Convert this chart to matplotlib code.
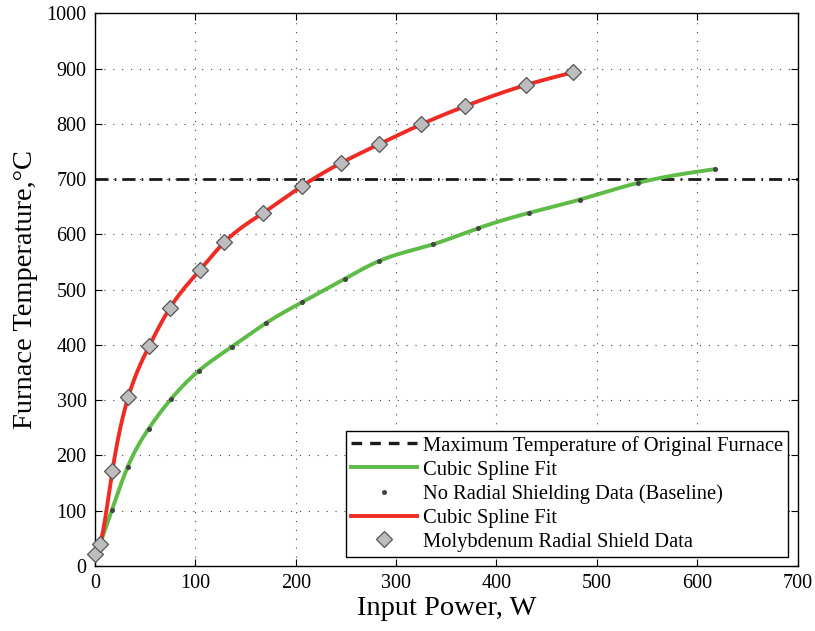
import matplotlib
matplotlib.use("Agg")
import matplotlib.pyplot as plt
from matplotlib.lines import Line2D
import numpy as np

# baseline (no radial shielding) data
base_power = [5, 16.7, 32.7, 53.3, 75.7, 103.3, 136.7, 170, 206, 249.3, 283.3,
              336.7, 381.7, 432.7, 483.3, 540.7, 617.7]
base_temp = [40, 101, 180, 248, 302, 353, 397, 439, 477, 520, 552,
             582, 611, 639, 663, 693, 718]

# molybdenum radial shield data
moly_power = [0, 5, 17.3, 33, 54, 74.3, 104.3, 129, 167.7, 206, 245, 283,
              325, 369, 429, 476]
moly_temp = [22, 40, 172, 305, 398, 466, 535, 586, 639, 687, 729, 763,
             799, 832, 870, 893]

max_temp = 700


def natural_spline(x, y, n=400):
    x = np.asarray(x, float)
    y = np.asarray(y, float)
    k = len(x)
    h = np.diff(x)
    A = np.zeros((k, k))
    r = np.zeros(k)
    A[0, 0] = A[-1, -1] = 1
    for i in range(1, k - 1):
        A[i, i - 1] = h[i - 1]
        A[i, i] = 2 * (h[i - 1] + h[i])
        A[i, i + 1] = h[i]
        r[i] = 6 * ((y[i + 1] - y[i]) / h[i] - (y[i] - y[i - 1]) / h[i - 1])
    m = np.linalg.solve(A, r)
    xs = np.linspace(x[0], x[-1], n)
    idx = np.clip(np.searchsorted(x, xs) - 1, 0, k - 2)
    x0, x1 = x[idx], x[idx + 1]
    hh = x1 - x0
    a = (x1 - xs) / hh
    b = (xs - x0) / hh
    ys = (a * y[idx] + b * y[idx + 1]
          + ((a ** 3 - a) * m[idx] + (b ** 3 - b) * m[idx + 1]) * hh ** 2 / 6)
    return xs, ys


plt.rcParams['font.family'] = ['Liberation Serif', 'DejaVu Serif']

fig = plt.figure(figsize=(8.15, 6.31), dpi=100)
ax = fig.add_axes([0.1166, 0.103, 0.862, 0.876])

dash = (0, (4.7, 2.2, 0.6, 2.2))
ax.axhline(max_temp, color='#1a1a1a', lw=2, linestyle=dash, zorder=2)

gx, gy = natural_spline(base_power, base_temp)
ax.plot(gx, gy, color='#5dbb46', lw=2.8, zorder=3)
ax.plot(base_power, base_temp, ls='none', marker='o', ms=2.6,
        color='#444444', zorder=4)

rx, ry = natural_spline(moly_power, moly_temp)
ax.plot(rx, ry, color='#ee2b24', lw=2.8, zorder=5)
ax.plot(moly_power, moly_temp, ls='none', marker='D', ms=8,
        markerfacecolor='#bdbdbf', markeredgecolor='#555555', mew=0.9,
        zorder=6, clip_on=False)

ax.set_xlim(0, 700)
ax.set_ylim(0, 1000)
ax.set_xticks(np.arange(0, 701, 100))
ax.set_yticks(np.arange(0, 1001, 100))
ax.grid(True, color='#444444', linestyle=(0, (1, 7)), lw=0.8)
ax.tick_params(direction='in', top=True, right=True, labelsize=14.5,
               length=5, width=0.8, pad=6)
for s in ax.spines.values():
    s.set_linewidth(1.0)

ax.set_xlabel('Input Power, W', fontsize=20.5, labelpad=2)
ax.set_ylabel('Furnace Temperature,°C', fontsize=20.5, labelpad=6)

handles = [
    Line2D([], [], color='#1a1a1a', lw=2.4, ls=(0, (3.2, 2.4))),
    Line2D([], [], color='#5dbb46', lw=2.8),
    Line2D([], [], ls='none', marker='o', ms=2.6, color='#444444'),
    Line2D([], [], color='#ee2b24', lw=2.8),
    Line2D([], [], ls='none', marker='D', ms=8, markerfacecolor='#bdbdbf',
           markeredgecolor='#555555', mew=0.9),
]
labels = ['Maximum Temperature of Original Furnace', 'Cubic Spline Fit',
          'No Radial Shielding Data (Baseline)', 'Cubic Spline Fit',
          'Molybdenum Radial Shield Data']
leg = ax.legend(handles, labels, loc='lower right', fontsize=14.8,
                handlelength=3.2, fancybox=False, framealpha=1,
                edgecolor='black', borderpad=0.25, labelspacing=0.22,
                handletextpad=0.3, borderaxespad=0.45)
leg.get_frame().set_linewidth(1.0)

fig.savefig('out.png', dpi=100)
